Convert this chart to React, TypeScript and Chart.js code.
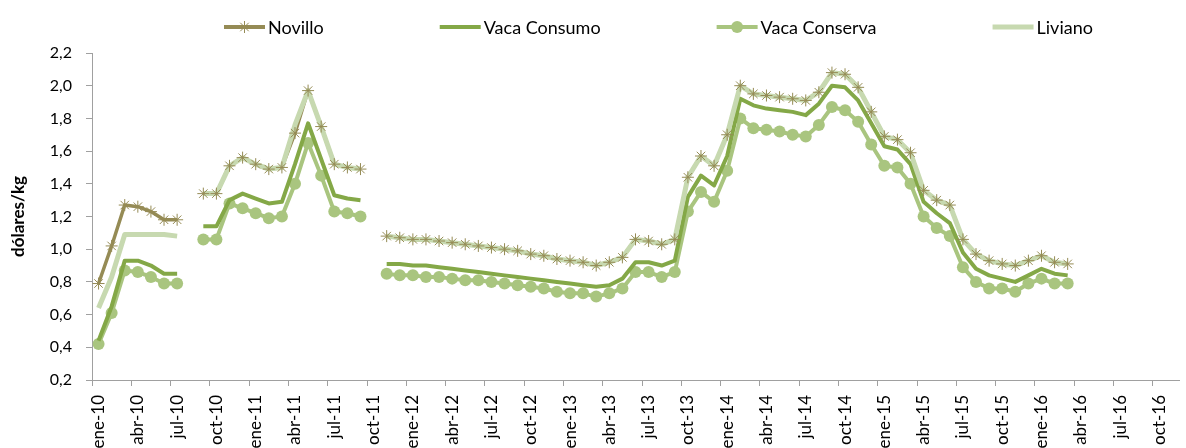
import React, { useEffect, useRef } from 'react';
import { Chart, registerables } from 'chart.js';

Chart.register(...registerables);

const MONTHS = ['ene', 'feb', 'mar', 'abr', 'may', 'jun', 'jul', 'ago', 'sep', 'oct', 'nov', 'dic'];
const YEARS = ['10', '11', '12', '13', '14', '15', '16'];
const CATEGORY_COUNT = 83; // ene-10 .. nov-16
const CATEGORIES = YEARS.flatMap((y) => MONTHS.map((m) => `${m}-${y}`)).slice(0, CATEGORY_COUNT);
const TICK_EVERY = 3;

const Y_MIN = 0.2;
const Y_MAX = 2.2;
const Y_STEP = 0.2;

const NOVILLO = [
  0.79, 1.02, 1.27, 1.26, 1.23, 1.18, 1.18,
  null,
  1.34, 1.34, 1.51, 1.56, 1.52, 1.49, 1.50, 1.71, 1.97, 1.75, 1.52, 1.50, 1.49,
  null,
  1.08, 1.07, 1.06, 1.06, 1.05, 1.04, 1.03, 1.02, 1.01, 1.00, 0.99, 0.97, 0.96, 0.94, 0.93, 0.92, 0.90,
  0.92, 0.95, 1.06, 1.05, 1.03, 1.06, 1.44, 1.57, 1.51, 1.70, 2.00, 1.95, 1.94, 1.93, 1.92, 1.91,
  1.96, 2.08, 2.07, 1.99, 1.84, 1.69, 1.67, 1.59, 1.36, 1.30, 1.27, 1.06, 0.97, 0.93, 0.91, 0.90,
  0.93, 0.96, 0.92, 0.91,
  null, null, null, null, null, null, null, null,
];

const VACA_CONSUMO = [
  0.44, 0.65, 0.93, 0.93, 0.90, 0.85, 0.85,
  null,
  1.14, 1.14, 1.30, 1.34, 1.31, 1.28, 1.29, 1.52, 1.77, 1.55, 1.33, 1.31, 1.30,
  null,
  0.91, 0.91, 0.90, 0.90, 0.89, 0.88, 0.87, 0.86, 0.85, 0.84, 0.83, 0.82, 0.81, 0.80, 0.79, 0.78, 0.77,
  0.78, 0.82, 0.92, 0.92, 0.90, 0.93, 1.32, 1.45, 1.39, 1.57, 1.92, 1.88, 1.86, 1.85, 1.84, 1.82,
  1.89, 2.00, 1.99, 1.91, 1.77, 1.63, 1.61, 1.52, 1.29, 1.22, 1.16, 0.98, 0.88, 0.84, 0.82, 0.80,
  0.84, 0.88, 0.85, 0.84,
  null, null, null, null, null, null, null, null,
];

const VACA_CONSERVA = [
  0.42, 0.61, 0.87, 0.86, 0.83, 0.79, 0.79,
  null,
  1.06, 1.06, 1.28, 1.25, 1.22, 1.19, 1.20, 1.40, 1.65, 1.45, 1.23, 1.22, 1.20,
  null,
  0.85, 0.84, 0.84, 0.83, 0.83, 0.82, 0.81, 0.81, 0.80, 0.79, 0.78, 0.77, 0.76, 0.74, 0.73, 0.73, 0.71,
  0.73, 0.76, 0.86, 0.86, 0.83, 0.86, 1.23, 1.35, 1.29, 1.48, 1.80, 1.74, 1.73, 1.72, 1.70, 1.69,
  1.76, 1.87, 1.85, 1.78, 1.64, 1.51, 1.50, 1.40, 1.20, 1.13, 1.08, 0.89, 0.80, 0.76, 0.76, 0.74,
  0.79, 0.82, 0.79, 0.79,
  null, null, null, null, null, null, null, null,
];

const LIVIANO = [
  0.64, 0.83, 1.09, 1.09, 1.09, 1.09, 1.08,
  null,
  1.34, 1.34, 1.51, 1.56, 1.52, 1.49, 1.50, 1.76, 1.97, 1.75, 1.52, 1.50, 1.49,
  null,
  1.08, 1.07, 1.06, 1.06, 1.05, 1.04, 1.03, 1.02, 1.01, 1.00, 0.99, 0.97, 0.96, 0.94, 0.93, 0.92, 0.90,
  0.92, 0.95, 1.06, 1.05, 1.03, 1.06, 1.44, 1.57, 1.51, 1.70, 2.00, 1.95, 1.94, 1.93, 1.92, 1.91,
  1.96, 2.08, 2.07, 1.99, 1.84, 1.69, 1.67, 1.59, 1.36, 1.30, 1.27, 1.06, 0.97, 0.93, 0.91, 0.90,
  0.93, 0.96, 0.92, 0.91,
  null, null, null, null, null, null, null, null,
];

const SERIES_NAMES = ['Novillo', 'Vaca Consumo', 'Vaca Conserva', 'Liviano'];

const C_NOVILLO = '#958B55';
const C_CONSUMO = '#84A847';
const C_CONSERVA = '#A9C57F';
const C_LIVIANO = '#C7D9B0';
const AXIS_COLOR = '#A0A0A0';
const FONT = 'Lato, "Liberation Sans", Arial, sans-serif';

function drawStar(ctx: CanvasRenderingContext2D, x: number, y: number, r: number, color: string) {
  ctx.save();
  ctx.strokeStyle = color;
  ctx.lineWidth = 1;
  ctx.beginPath();
  for (let k = 0; k < 4; k++) {
    const a = (k * Math.PI) / 4;
    ctx.moveTo(x - Math.cos(a) * r, y - Math.sin(a) * r);
    ctx.lineTo(x + Math.cos(a) * r, y + Math.sin(a) * r);
  }
  ctx.stroke();
  ctx.restore();
}

const legendItems = [
  { label: SERIES_NAMES[0], color: C_NOVILLO, width: 4, marker: 'star' },
  { label: SERIES_NAMES[1], color: C_CONSUMO, width: 4, marker: 'none' },
  { label: SERIES_NAMES[2], color: C_CONSERVA, width: 4, marker: 'circle' },
  { label: SERIES_NAMES[3], color: C_LIVIANO, width: 5, marker: 'none' },
];

const customLegend = {
  id: 'customLegend',
  afterDraw(chart: any) {
    const ctx: CanvasRenderingContext2D = chart.ctx;
    ctx.save();
    ctx.font = `18px ${FONT}`;
    ctx.textBaseline = 'middle';
    ctx.textAlign = 'left';
    const y = 27;
    let x = 224;
    for (const item of legendItems) {
      ctx.strokeStyle = item.color;
      ctx.lineWidth = item.width;
      ctx.lineCap = 'butt';
      ctx.beginPath();
      ctx.moveTo(x, y);
      ctx.lineTo(x + 41, y);
      ctx.stroke();
      if (item.marker === 'star') drawStar(ctx, x + 20.5, y, 6, item.color);
      if (item.marker === 'circle') {
        ctx.fillStyle = item.color;
        ctx.beginPath();
        ctx.arc(x + 20.5, y, 6, 0, Math.PI * 2);
        ctx.fill();
      }
      ctx.fillStyle = '#000';
      ctx.fillText(item.label, x + 44, y + 1);
      x += 44 + ctx.measureText(item.label).width + 116;
    }
    ctx.restore();
  },
};

export default function App() {
  const ref = useRef<HTMLCanvasElement | null>(null);

  useEffect(() => {
    if (!ref.current) return;
    const chart = new Chart(ref.current, {
      type: 'line',
      data: {
        labels: CATEGORIES,
        datasets: [
          {
            label: SERIES_NAMES[0] + ' marcas',
            data: NOVILLO,
            showLine: false,
            pointStyle: 'star',
            pointRadius: 6,
            pointBorderWidth: 1,
            pointBorderColor: C_NOVILLO,
            pointBackgroundColor: C_NOVILLO,
            borderColor: C_NOVILLO,
            order: 0,
          },
          {
            label: SERIES_NAMES[3],
            data: LIVIANO,
            borderColor: C_LIVIANO,
            backgroundColor: C_LIVIANO,
            borderWidth: 5,
            pointRadius: 0,
            borderJoinStyle: 'round',
            order: 1,
          },
          {
            label: SERIES_NAMES[1],
            data: VACA_CONSUMO,
            borderColor: C_CONSUMO,
            backgroundColor: C_CONSUMO,
            borderWidth: 4,
            pointRadius: 0,
            borderJoinStyle: 'round',
            order: 2,
          },
          {
            label: SERIES_NAMES[2],
            data: VACA_CONSERVA,
            borderColor: C_CONSERVA,
            backgroundColor: C_CONSERVA,
            borderWidth: 4,
            pointRadius: 6,
            pointBorderWidth: 0,
            pointBackgroundColor: C_CONSERVA,
            borderJoinStyle: 'round',
            order: 3,
          },
          {
            label: SERIES_NAMES[0],
            data: NOVILLO,
            borderColor: C_NOVILLO,
            backgroundColor: C_NOVILLO,
            borderWidth: 3.5,
            pointRadius: 0,
            borderJoinStyle: 'round',
            order: 4,
          },
        ],
      },
      options: {
        responsive: false,
        animation: false,
        devicePixelRatio: 1,
        layout: { padding: { top: 53, right: 0, left: 0, bottom: 0 } },
        plugins: {
          legend: { display: false },
          tooltip: { enabled: false },
        },
        scales: {
          x: {
            type: 'category',
            offset: true,
            grid: {
              offset: true,
              drawOnChartArea: false,
              drawTicks: true,
              tickLength: 6,
              color: (c: any) => (c.index % TICK_EVERY === 0 ? AXIS_COLOR : 'rgba(0,0,0,0)'),
            },
            border: { color: AXIS_COLOR, width: 1 },
            ticks: {
              autoSkip: false,
              maxRotation: 90,
              minRotation: 90,
              padding: 9,
              color: '#000',
              font: { family: FONT, size: 17 },
              callback: (_v: any, i: number) => (i % TICK_EVERY === 0 ? CATEGORIES[i] : ''),
            },
            afterFit: (s: any) => {
              s.height = 68;
              s.paddingLeft = 0;
              s.paddingRight = 0;
            },
          },
          y: {
            min: Y_MIN,
            max: Y_MAX,
            grid: {
              drawOnChartArea: false,
              drawTicks: true,
              tickLength: 6,
              color: AXIS_COLOR,
            },
            border: { color: AXIS_COLOR, width: 1 },
            ticks: {
              stepSize: Y_STEP,
              padding: 14,
              color: '#000',
              font: { family: FONT, size: 16 },
              callback: (v: any) => Number(v).toFixed(1).replace('.', ','),
            },
            title: {
              display: true,
              text: 'dólares/kg',
              color: '#000',
              font: { family: FONT, size: 17, weight: 'bold' },
              padding: { top: 8, bottom: 0 },
            },
            afterFit: (s: any) => {
              s.width = 92;
            },
          },
        },
      },
      plugins: [customLegend],
    });
    return () => chart.destroy();
  }, []);

  return (
    <div style={{ position: 'absolute', left: 0, top: 0, width: 1186, height: 448, background: '#fff' }}>
      <canvas ref={ref} width={1186} height={448} />
    </div>
  );
}
